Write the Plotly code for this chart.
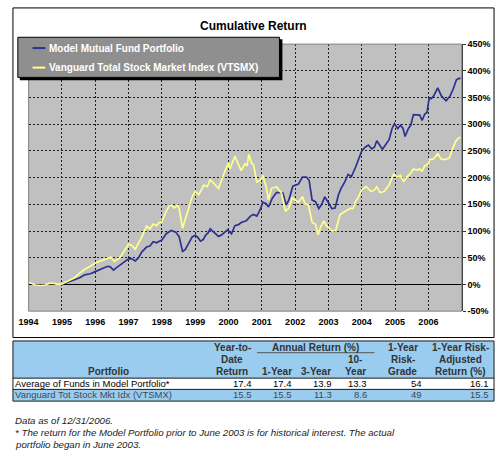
"""
Cumulative return chart with summary table
"""

import plotly.graph_objects as go

W, H = 496, 456

# cumulative return (%), x in decimal years
model_years = [
    1995.00, 1995.20, 1995.39, 1995.55, 1995.68, 1995.85, 1996.00, 1996.20, 1996.37, 1996.45,
    1996.55, 1996.65, 1996.76, 1996.90, 1997.00, 1997.10, 1997.20, 1997.30, 1997.40, 1997.54,
    1997.64, 1997.74, 1997.84, 1997.92, 1998.00, 1998.13, 1998.28, 1998.42, 1998.52, 1998.62,
    1998.70, 1998.77, 1998.91, 1999.00, 1999.08, 1999.16, 1999.24, 1999.31, 1999.38, 1999.45,
    1999.55, 1999.70, 1999.80, 1999.89, 1999.97, 2000.09, 2000.19, 2000.30, 2000.38, 2000.53,
    2000.60, 2000.66, 2000.75, 2000.85, 2000.95, 2001.03, 2001.13, 2001.20, 2001.32, 2001.44,
    2001.54, 2001.63, 2001.73, 2001.81, 2001.93, 2002.01, 2002.10, 2002.22, 2002.34, 2002.42,
    2002.51, 2002.61, 2002.71, 2002.79, 2002.89, 2003.01, 2003.10, 2003.20, 2003.30, 2003.38,
    2003.49, 2003.59, 2003.69, 2003.81, 2003.89, 2004.00, 2004.10, 2004.20, 2004.30, 2004.38,
    2004.45, 2004.55, 2004.62, 2004.72, 2004.82, 2004.91, 2004.98, 2005.08, 2005.16, 2005.24,
    2005.30, 2005.40, 2005.47, 2005.55, 2005.67, 2005.74, 2005.81, 2005.89, 2005.96, 2006.02,
    2006.09, 2006.16, 2006.28, 2006.39, 2006.53, 2006.65, 2006.74, 2006.84, 2006.92, 2006.97,
]
model_values = [
    0, 5, 9, 13, 18, 20, 24, 29, 34, 33,
    27, 32, 37, 42, 48, 48, 44, 50, 61, 70,
    72, 80, 78, 81, 83, 95, 101, 98, 89, 62,
    65, 73, 89, 92, 88, 81, 84, 92, 96, 104,
    99, 90, 93, 98, 102, 95, 110, 112, 116, 119,
    125, 128, 131, 128, 140, 154, 151, 145, 162, 172,
    172, 171, 149, 158, 184, 186, 188, 201, 201, 195,
    158, 155, 142, 149, 164, 152, 142, 143, 168, 180,
    192, 206, 202, 219, 231, 250, 257, 261, 254, 257,
    269, 259, 253, 262, 271, 292, 301, 292, 298, 292,
    277, 292, 298, 318, 317, 317, 307, 319, 322, 348,
    348, 353, 368, 353, 344, 353, 365, 383, 386, 386,
]

vtsmx_years = [
    1994.00, 1994.10, 1994.20, 1994.35, 1994.50, 1994.62, 1994.75, 1994.88, 1995.00, 1995.20,
    1995.39, 1995.55, 1995.68, 1995.85, 1996.00, 1996.20, 1996.37, 1996.47, 1996.57, 1996.68,
    1996.76, 1996.91, 1997.00, 1997.10, 1997.20, 1997.30, 1997.40, 1997.54, 1997.64, 1997.74,
    1997.84, 1997.92, 1998.00, 1998.13, 1998.23, 1998.30, 1998.37, 1998.47, 1998.52, 1998.62,
    1998.77, 1998.91, 1999.00, 1999.11, 1999.26, 1999.36, 1999.45, 1999.55, 1999.70, 1999.84,
    2000.00, 2000.04, 2000.19, 2000.38, 2000.50, 2000.56, 2000.61, 2000.70, 2000.75, 2000.85,
    2000.95, 2001.03, 2001.13, 2001.20, 2001.29, 2001.44, 2001.59, 2001.71, 2001.81, 2001.91,
    2002.01, 2002.10, 2002.22, 2002.30, 2002.40, 2002.51, 2002.61, 2002.69, 2002.76, 2002.86,
    2002.93, 2003.01, 2003.12, 2003.22, 2003.35, 2003.51, 2003.67, 2003.74, 2003.81, 2003.89,
    2004.00, 2004.13, 2004.28, 2004.38, 2004.45, 2004.55, 2004.67, 2004.82, 2004.91, 2004.96,
    2005.01, 2005.08, 2005.16, 2005.26, 2005.35, 2005.45, 2005.55, 2005.65, 2005.74, 2005.81,
    2005.89, 2005.99, 2006.04, 2006.14, 2006.28, 2006.39, 2006.53, 2006.63, 2006.72, 2006.82,
    2006.92, 2006.97,
]
vtsmx_values = [
    4, 2, -1, -2, -1, 2, 2, 0, 1, 7,
    13, 22, 28, 34, 40, 45, 49, 51, 43, 47,
    52, 67, 75, 73, 66, 78, 89, 109, 104, 113,
    110, 116, 117, 137, 148, 148, 143, 148, 142, 105,
    134, 164, 174, 168, 186, 183, 196, 189, 180, 204,
    228, 216, 240, 213, 226, 222, 244, 226, 225, 192,
    195, 204, 183, 158, 180, 183, 171, 137, 143, 162,
    158, 154, 164, 151, 149, 116, 113, 93, 107, 119,
    110, 105, 100, 102, 131, 137, 143, 142, 155, 162,
    177, 183, 174, 177, 183, 172, 174, 186, 201, 207,
    204, 201, 204, 192, 201, 207, 216, 214, 216, 212,
    222, 225, 234, 234, 245, 234, 234, 237, 253, 268,
    275, 275,
]

year_ticks = list(range(1994, 2007))
pct_ticks = list(range(-50, 451, 50))

series_names = ["Model Mutual Fund Portfolio",
                "Vanguard Total Stock Market Index (VTSMX)"]
series_colors = ["#2e3192", "#ffff8a"]

# summary table
table_rows = ["Average of Funds in Model Portfolio*",
              "Vanguard Tot Stock Mkt Idx (VTSMX)"]
ytd_return = ["17.4", "15.5"]
one_year = ["17.4", "15.5"]
three_year = ["13.9", "11.3"]
ten_year = ["13.3", "8.6"]
risk_grade = ["54", "49"]
risk_adjusted = ["16.1", "15.5"]

footnotes = [
    "Data as of 12/31/2006.",
    "* The return for the Model Portfolio prior to June 2003 is for historical interest. The actual",
    "portfolio began in June 2003.",
]

FONT = "Liberation Sans, Arial, sans-serif"
TABLE_BLUE = "#99ccee"


def px(x):
    return x / W


def py(y):
    return 1 - y / H


fig = go.Figure()

fig.add_trace(go.Scatter(x=model_years, y=model_values, mode="lines",
                         name=series_names[0],
                         line=dict(color=series_colors[0], width=1.7)))
fig.add_trace(go.Scatter(x=vtsmx_years, y=vtsmx_values, mode="lines",
                         name=series_names[1],
                         line=dict(color=series_colors[1], width=1.7)))

shapes = []
annotations = []

# chart frame
shapes.append(dict(type="rect", xref="paper", yref="paper",
                   x0=px(3), x1=px(494), y0=py(340), y1=py(3),
                   line=dict(color="#000000", width=1), layer="below"))
# plot area edge
shapes.append(dict(type="rect", xref="paper", yref="paper",
                   x0=px(19), x1=px(461), y0=py(313), y1=py(40),
                   line=dict(color="#808080", width=1)))

# legend box with shadow
shapes.append(dict(type="rect", xref="paper", yref="paper",
                   x0=px(10), x1=px(278), y0=py(77), y1=py(35),
                   fillcolor="#000000", line=dict(width=0), layer="above"))
shapes.append(dict(type="rect", xref="paper", yref="paper",
                   x0=px(8), x1=px(275), y0=py(74), y1=py(33),
                   fillcolor="#8f8f8f", line=dict(color="#000000", width=1),
                   layer="above"))
for i, (name, color) in enumerate(zip(series_names, series_colors)):
    ly = 44 + i * 20
    shapes.append(dict(type="line", xref="paper", yref="paper",
                       x0=px(23), x1=px(36), y0=py(ly), y1=py(ly),
                       line=dict(color=color, width=2), layer="above"))
    annotations.append(dict(x=px(38), y=py(ly), xref="paper", yref="paper",
                            text="<b>" + name + "</b>", showarrow=False,
                            xanchor="left", yanchor="middle",
                            font=dict(family=FONT, size=10, color="#ffffff")))

# table backgrounds and rules
shapes.append(dict(type="rect", xref="paper", yref="paper",
                   x0=px(3), x1=px(494), y0=py(381.5), y1=py(343.5),
                   fillcolor=TABLE_BLUE, line=dict(width=0)))
shapes.append(dict(type="rect", xref="paper", yref="paper",
                   x0=px(3), x1=px(494), y0=py(405), y1=py(393),
                   fillcolor=TABLE_BLUE, line=dict(width=0)))
shapes.append(dict(type="rect", xref="paper", yref="paper",
                   x0=px(3), x1=px(494), y0=py(405), y1=py(343.5),
                   line=dict(color="#1a1a1a", width=1)))
for yy in (381.5, 393):
    shapes.append(dict(type="line", xref="paper", yref="paper",
                       x0=px(3), x1=px(494), y0=py(yy), y1=py(yy),
                       line=dict(color="#1a1a1a", width=1)))
shapes.append(dict(type="line", xref="paper", yref="paper",
                   x0=px(252), x1=px(372), y0=py(355.5), y1=py(355.5),
                   line=dict(color="#555555", width=1)))


def text(x, y, s, anchor="center", size=10, color="#000000", bold=False, italic=False):
    if bold:
        s = "<b>" + s + "</b>"
    if italic:
        s = "<i>" + s + "</i>"
    annotations.append(dict(x=px(x), y=py(y), xref="paper", yref="paper",
                            text=s, showarrow=False, xanchor=anchor,
                            yanchor="middle",
                            font=dict(family=FONT, size=size, color=color)))


# chart title
text(248, 21, "Cumulative Return", size=12, bold=True)

# table header
HDR = "#333333"
text(101, 375, "Portfolio", color=HDR, bold=True)
for row, s in enumerate(["Year-to-", "Date", "Return"]):
    text(227, 350 + row * 12.5, s, color=HDR, bold=True)
text(312, 350, "Annual Return (%)", color=HDR, bold=True)
text(272.5, 375, "1-Year", color=HDR, bold=True)
text(312.5, 375, "3-Year", color=HDR, bold=True)
text(352.5, 362.5, "10-", color=HDR, bold=True)
text(352.5, 375, "Year", color=HDR, bold=True)
for row, s in enumerate(["1-Year", "Risk-", "Grade"]):
    text(401, 350 + row * 12.5, s, color=HDR, bold=True)
for row, s in enumerate(["1-Year Risk-", "Adjusted", "Return (%)"]):
    text(460, 350 + row * 12.5, s, color=HDR, bold=True)

# table body
row_colors = ["#000000", "#3b4a5a"]
value_cols = [(ytd_return, 249.5), (one_year, 289.5), (three_year, 331),
              (ten_year, 366.5), (risk_grade, 423), (risk_adjusted, 491)]
for r, label in enumerate(table_rows):
    ry = 387 + r * 11.7
    text(3.5, ry, label, anchor="left", size=9.5, color=row_colors[r])
    for vals, right in value_cols:
        text(right, ry, vals[r], anchor="right", size=9.5, color=row_colors[r])

# footnotes
for i, s in enumerate(footnotes):
    text(3, 425 + i * 12, s, anchor="left", size=9.7, color="#222222", italic=True)

fig.update_layout(
    width=W, height=H,
    margin=dict(l=0, r=0, t=0, b=0),
    paper_bgcolor="#ffffff",
    plot_bgcolor="#c0c0c0",
    showlegend=False,
    font=dict(family=FONT, size=9, color="#000000"),
    shapes=shapes,
    annotations=annotations,
    xaxis=dict(
        domain=[px(19), px(461)],
        range=[1994, 2007],
        tickvals=year_ticks,
        ticktext=["<b>%d</b>" % y for y in year_ticks],
        tickfont=dict(size=9, color="#000000"),
        ticklabelstandoff=4,
        showgrid=True, gridcolor="#202020", gridwidth=1, griddash="2px,2px",
        zeroline=False, showline=False, ticks="",
    ),
    yaxis=dict(
        domain=[py(313), py(40)],
        range=[-50, 450],
        side="right",
        tickvals=pct_ticks,
        ticktext=["<b>%d%%</b>" % v for v in pct_ticks],
        tickfont=dict(size=9, color="#000000"),
        ticks="outside", ticklen=3, tickcolor="#333333",
        showline=True, linecolor="#333333", linewidth=1,
        showgrid=True, gridcolor="#202020", gridwidth=1, griddash="2px,2px",
        zeroline=True, zerolinecolor="#000000", zerolinewidth=1,
    ),
)

fig.write_html(
    "out.html",
    config={"displayModeBar": False},
    post_script="document.body.style.margin='0';"
                "document.body.style.overflow='hidden';",
)
